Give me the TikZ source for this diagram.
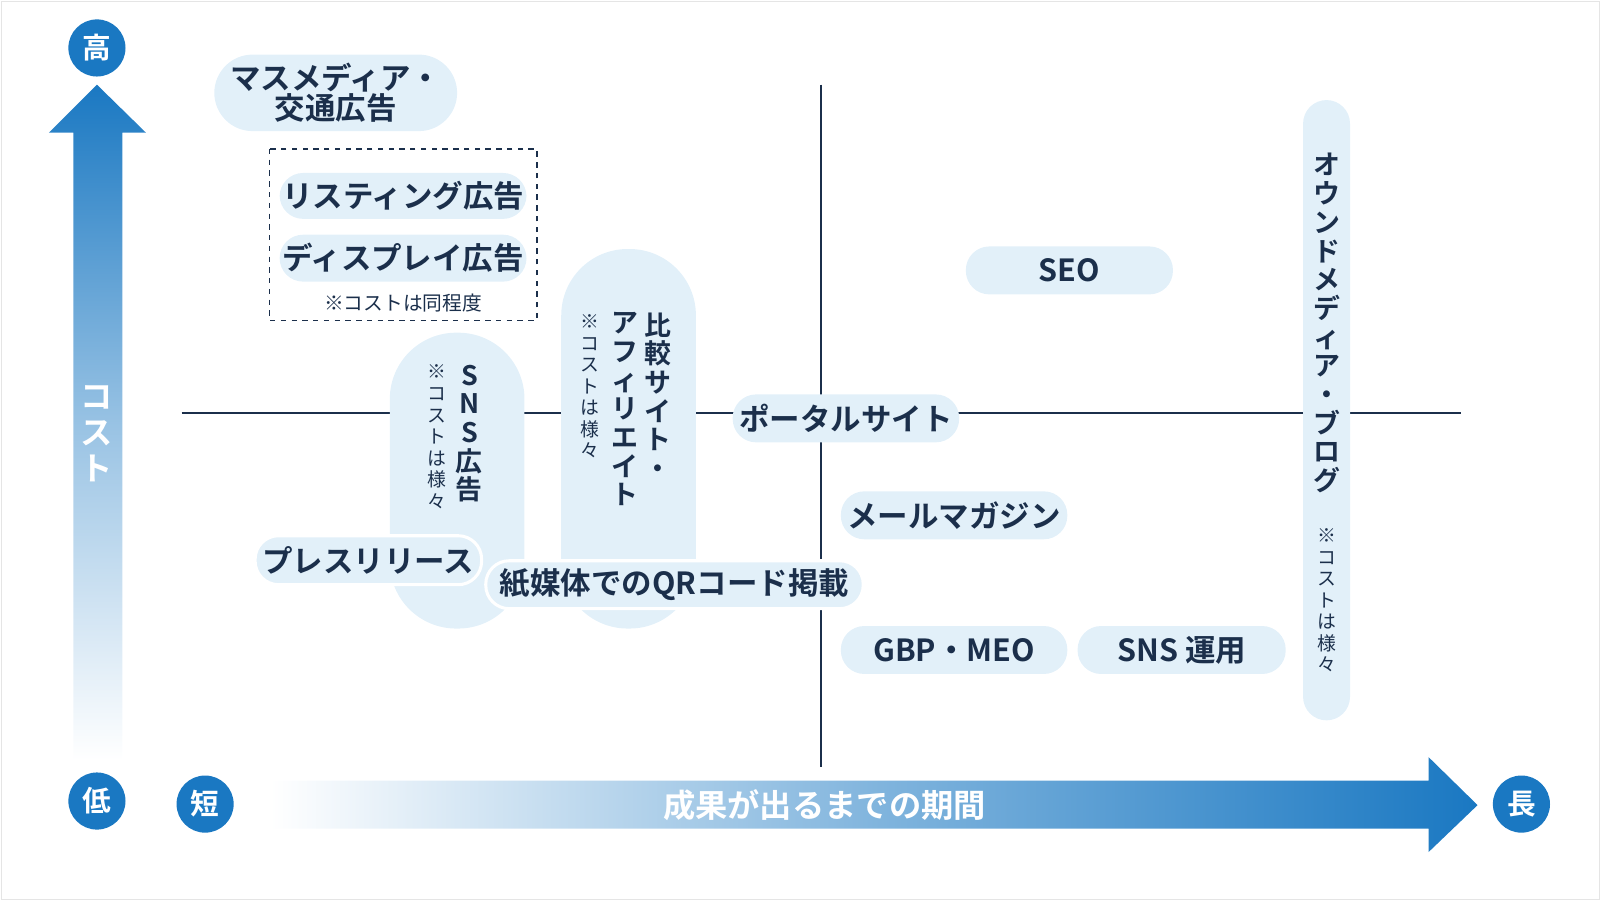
\documentclass[tikz,border=0pt]{standalone}
\usepackage{fontspec}
\setmainfont{Noto Sans CJK JP}[BoldFont={Noto Sans CJK JP Bold}]
\definecolor{navy}{HTML}{1B2F4B}
\definecolor{pillblue}{HTML}{E2F0F9}
\definecolor{axisblue}{HTML}{1A78C2}
\tikzset{
  pill/.style={fill=pillblue, rounded corners=0.46cm, inner sep=0pt,
    text=navy, font=\bfseries\fontsize{17}{20}\selectfont},
  vpill/.style={fill=pillblue, rounded corners=1.3cm, inner sep=0pt},
  vtext/.style={text=navy, align=center, inner sep=0pt,
    font=\bfseries\fontsize{15}{16}\selectfont},
  vnote/.style={text=navy, align=center, inner sep=0pt,
    font=\fontsize{10.5}{12}\selectfont},
  endmark/.style={circle, fill=axisblue, minimum size=1.12cm, inner sep=0pt,
    text=white, font=\bfseries\fontsize{16}{16}\selectfont}
}
\begin{document}
\begin{tikzpicture}[x=0.02cm, y=-0.02cm]
  \useasboundingbox (0,0) rectangle (1568,882);
  \draw[gray!20] (1,1) rectangle (1567,881);

  % cost axis
  \shade[bottom color=white, top color=axisblue, middle color=axisblue!45]
    (72,745) -- (72,130) -- (48,130) -- (95,83) -- (143,130) -- (120,130) -- (120,745) -- cycle;
  \node[text=white, align=center, font=\bfseries\fontsize{18}{20}\selectfont] (cost) at (95,425) {コ\\ス\\ト};
  \node[endmark] (high) at (95,47) {高};
  \node[endmark] (low) at (95,785) {低};

  % time axis
  \shade[left color=white, right color=axisblue, middle color=axisblue!55]
    (265,765) -- (1400,765) -- (1400,742) -- (1448,789) -- (1400,835) -- (1400,812) -- (265,812) -- cycle;
  \node[text=white, font=\bfseries\fontsize{18}{20}\selectfont] (period) at (808,789) {成果が出るまでの期間};
  \node[endmark] (short) at (201,788) {短};
  \node[endmark] (long) at (1491,788) {長};

  % quadrant lines
  \coordinate (hl) at (178,405);
  \coordinate (hr) at (1432,405);
  \coordinate (vt) at (805,83);
  \coordinate (vb) at (805,752);
  \draw[navy, line width=0.04cm] (hl) -- (hr);
  \draw[navy, line width=0.04cm] (vt) -- (vb);

  % short term, high cost
  \node[pill, minimum width=4.76cm, minimum height=1.5cm, rounded corners=0.75cm, align=center,
    font=\bfseries\fontsize{17}{17}\selectfont] (mass) at (329,91) {マスメディア・\\交通広告};
  \draw[navy, dashed, line width=0.03cm] (264,146) rectangle (526,314);
  \node[pill, minimum width=4.84cm, minimum height=0.9cm] (listing) at (395,192) {リスティング広告};
  \node[pill, minimum width=4.84cm, minimum height=0.92cm] (display) at (395,253) {ディスプレイ広告};
  \node[text=navy, font=\fontsize{11}{12}\selectfont] (same) at (395,297) {※コストは同程度};

  % tall pills
  \node[vpill, minimum width=2.64cm, minimum height=5.8cm] (snsad) at (448,471) {};
  \node[vtext] at (460,425) {S\\N\\S\\広\\告};
  \node[vnote] at (428,428) {※\\コ\\ス\\ト\\は\\様\\々};
  \node[vpill, minimum width=2.64cm, minimum height=7.44cm] (compare) at (616,430) {};
  \node[vtext, anchor=north] at (645,306) {比\\較\\サ\\イ\\ト\\・};
  \node[vtext, anchor=north] at (612,306) {ア\\フ\\ィ\\リ\\エ\\イ\\ト};
  \node[vnote, anchor=north] at (578,308) {※\\コ\\ス\\ト\\は\\様\\々};

  \node[pill, draw=white, line width=0.06cm, minimum width=4.44cm, minimum height=0.96cm] (press) at (361,549) {プレスリリース};
  \node[pill, draw=white, line width=0.06cm, minimum width=7.4cm, minimum height=0.94cm] (qr) at (661,573) {紙媒体でのQRコード掲載};

  % long term
  \node[pill, minimum width=4.44cm, minimum height=0.94cm] (portal) at (829,410) {ポータルサイト};
  \node[pill, minimum width=4.06cm, minimum height=0.94cm] (seo) at (1048,265) {SEO};
  \node[pill, minimum width=4.44cm, minimum height=0.94cm] (mail) at (935,505) {メールマガジン};
  \node[pill, minimum width=4.44cm, minimum height=0.94cm] (gbp) at (935,637) {GBP・MEO};
  \node[pill, minimum width=4.08cm, minimum height=0.94cm] (snsop) at (1158,637) {SNS 運用};
  \node[pill, minimum width=0.92cm, minimum height=12.16cm] (owned) at (1300,402) {};
  \node[vtext, anchor=north] at (1300,150) {オ\\ウ\\ン\\ド\\メ\\デ\\ィ\\ア\\・\\ブ\\ロ\\グ};
  \node[vnote, anchor=north] at (1300,518) {※\\コ\\ス\\ト\\は\\様\\々};
\end{tikzpicture}
\end{document}
